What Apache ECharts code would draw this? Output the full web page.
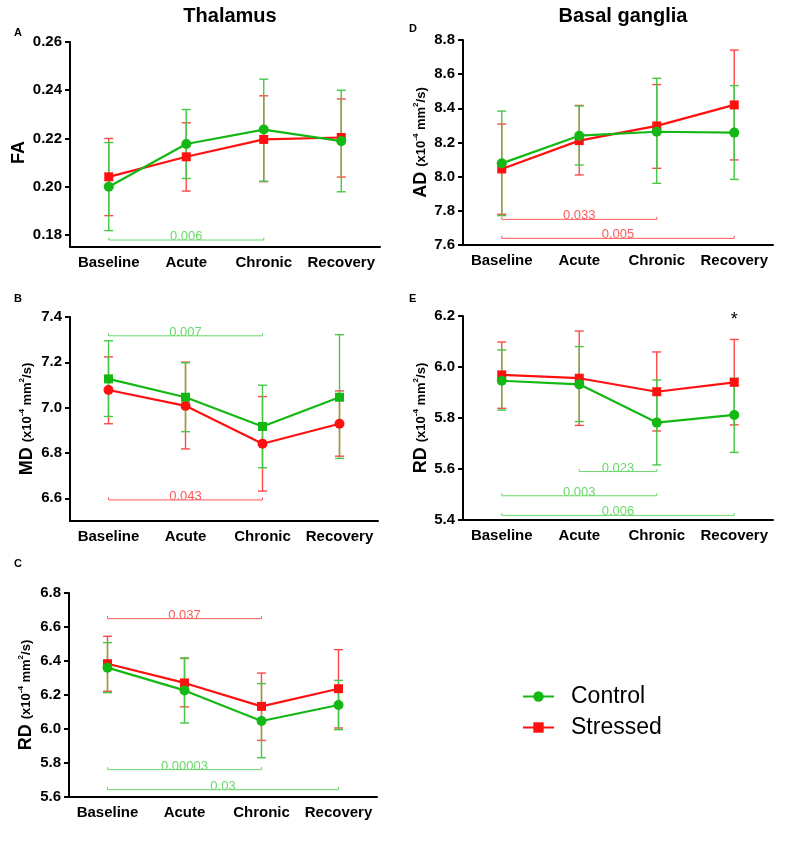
<!DOCTYPE html>
<html>
<head>
<meta charset="utf-8">
<script src="https://cdn.jsdelivr.net/npm/echarts@6/dist/echarts.min.js"></script>
<style>html,body{margin:0;padding:0;background:#fff}#chart{width:797px;height:845px}</style>
</head>
<body>
<div id="chart"></div>
<script>
const categories = ['Baseline', 'Acute', 'Chronic', 'Recovery'];

// Panel A – Thalamus FA
const faControl = [0.200, 0.2177, 0.2237, 0.2189];
const faControlUpper = [0.2183, 0.232, 0.2446, 0.240];
const faControlLower = [0.1818, 0.2034, 0.2023, 0.1979];
const faStressed = [0.2041, 0.2124, 0.2196, 0.2204];
const faStressedUpper = [0.220, 0.2265, 0.2377, 0.2364];
const faStressedLower = [0.188, 0.1982, 0.2021, 0.2040];
const faTicks = [0.18, 0.20, 0.22, 0.24, 0.26];
const faBrackets = [[0, 2, 0.1779, '0.006', 'c']];

// Panel B – Thalamus MD
const mdControl = [7.127, 7.046, 6.917, 7.046];
const mdControlUpper = [7.295, 7.198, 7.099, 7.322];
const mdControlLower = [6.961, 6.894, 6.735, 6.776];
const mdStressed = [7.078, 7.008, 6.841, 6.929];
const mdStressedUpper = [7.224, 7.201, 7.049, 7.074];
const mdStressedLower = [6.929, 6.818, 6.632, 6.786];
const mdTicks = [6.6, 6.8, 7.0, 7.2, 7.4];
const mdBrackets = [[0, 2, 7.317, '0.007', 'c'], [0, 2, 6.593, '0.043', 's']];

// Panel C – Thalamus RD
const rdThControl = [6.361, 6.227, 6.047, 6.141];
const rdThControlUpper = [6.508, 6.418, 6.267, 6.286];
const rdThControlLower = [6.214, 6.035, 5.831, 5.996];
const rdThStressed = [6.384, 6.271, 6.133, 6.237];
const rdThStressedUpper = [6.545, 6.415, 6.329, 6.467];
const rdThStressedLower = [6.222, 6.13, 5.933, 6.006];
const rdThTicks = [5.6, 5.8, 6.0, 6.2, 6.4, 6.6, 6.8];
const rdThBrackets = [[0, 2, 6.649, '0.037', 's'], [0, 2, 5.761, '0.00003', 'c'], [0, 3, 5.643, '0.03', 'c']];

// Panel D – Basal ganglia AD
const adControl = [8.078, 8.240, 8.263, 8.258];
const adControlUpper = [8.384, 8.414, 8.576, 8.533];
const adControlLower = [7.772, 8.068, 7.961, 7.984];
const adStressed = [8.045, 8.211, 8.297, 8.42];
const adStressedUpper = [8.308, 8.417, 8.539, 8.741];
const adStressedLower = [7.78, 8.01, 8.049, 8.098];
const adTicks = [7.6, 7.8, 8.0, 8.2, 8.4, 8.6, 8.8];
const adBrackets = [[0, 2, 7.75, '0.033', 's'], [0, 3, 7.639, '0.005', 's']];

// Panel E – Basal ganglia RD
const rdBgControl = [5.946, 5.932, 5.782, 5.812];
const rdBgControlUpper = [6.067, 6.08, 5.949, 5.956];
const rdBgControlLower = [5.831, 5.786, 5.616, 5.665];
const rdBgStressed = [5.969, 5.956, 5.903, 5.94];
const rdBgStressedUpper = [6.098, 6.141, 6.059, 6.108];
const rdBgStressedLower = [5.838, 5.771, 5.749, 5.773];
const rdBgTicks = [5.4, 5.6, 5.8, 6.0, 6.2];
const rdBgBrackets = [[1, 2, 5.59, '0.023', 'c'], [0, 2, 5.495, '0.003', 'c'], [0, 3, 5.418, '0.006', 'c']];
const rdBgStar = [[3, 6.183]];

const FONT = 'Liberation Sans, Arial, Helvetica, sans-serif';
const GREEN = '#14b814';
const RED = '#ff1010';
const GREEN_BAR = '#46c846';
const RED_BAR = '#ff4848';
const GREEN_BR = '#6ad86a';
const RED_BR = '#ff5a5a';

const grids = [
  {left: 70, top: 42, width: 310, height: 205},
  {left: 70, top: 317, width: 308, height: 204},
  {left: 69, top: 593, width: 308, height: 204},
  {left: 463, top: 40, width: 310, height: 205},
  {left: 463, top: 316, width: 310, height: 204}
].map(g => Object.assign({outerBoundsMode: 'none', containLabel: false}, g));

function yName(main) {
  return '{b|' + main + '} {n|(x10}{s|-4}{n| mm}{s|2}{n|/s)}';
}
const nameRich = {
  b: {fontSize: 18, fontWeight: 'bold', fontFamily: FONT, color: '#000'},
  n: {fontSize: 13, fontWeight: 'bold', fontFamily: FONT, color: '#000'},
  s: {fontSize: 8, fontWeight: 'bold', fontFamily: FONT, color: '#000', verticalAlign: 'top'}
};

const panels = [
  {min: 0.175, max: 0.26, ticks: faTicks, dec: 2, name: '{b|FA}', gap: 42, namePad: [0, 16, 0, 0],
   c: faControl, cu: faControlUpper, cl: faControlLower,
   s: faStressed, su: faStressedUpper, sl: faStressedLower,
   br: faBrackets, cSym: 'circle', sSym: 'rect'},
  {min: 6.5, max: 7.4, ticks: mdTicks, dec: 1, name: yName('MD'), gap: 34,
   c: mdControl, cu: mdControlUpper, cl: mdControlLower,
   s: mdStressed, su: mdStressedUpper, sl: mdStressedLower,
   br: mdBrackets, cSym: 'rect', sSym: 'circle'},
  {min: 5.6, max: 6.8, ticks: rdThTicks, dec: 1, name: yName('RD'), gap: 34,
   c: rdThControl, cu: rdThControlUpper, cl: rdThControlLower,
   s: rdThStressed, su: rdThStressedUpper, sl: rdThStressedLower,
   br: rdThBrackets, cSym: 'circle', sSym: 'rect'},
  {min: 7.6, max: 8.8, ticks: adTicks, dec: 1, name: yName('AD'), gap: 33,
   c: adControl, cu: adControlUpper, cl: adControlLower,
   s: adStressed, su: adStressedUpper, sl: adStressedLower,
   br: adBrackets, cSym: 'circle', sSym: 'rect'},
  {min: 5.4, max: 6.2, ticks: rdBgTicks, dec: 1, name: yName('RD'), gap: 33,
   c: rdBgControl, cu: rdBgControlUpper, cl: rdBgControlLower,
   s: rdBgStressed, su: rdBgStressedUpper, sl: rdBgStressedLower,
   br: rdBgBrackets, cSym: 'circle', sSym: 'rect', star: rdBgStar}
];

const xAxes = [], yAxes = [], series = [];

function errorSeries(i, lower, upper, color, z) {
  return {
    type: 'custom', xAxisIndex: i, yAxisIndex: i, z: z, silent: true,
    data: lower.map((lo, k) => [k, lo, upper[k]]),
    encode: {x: 0, y: [1, 2]},
    renderItem: function (params, api) {
      const x = api.value(0);
      const pTop = api.coord([x, api.value(2)]);
      const pBot = api.coord([x, api.value(1)]);
      const w = 4.5;
      const st = {stroke: color, lineWidth: 1.4, fill: null};
      return {type: 'group', children: [
        {type: 'line', shape: {x1: pTop[0], y1: pTop[1], x2: pBot[0], y2: pBot[1]}, style: st},
        {type: 'line', shape: {x1: pTop[0] - w, y1: pTop[1], x2: pTop[0] + w, y2: pTop[1]}, style: st},
        {type: 'line', shape: {x1: pBot[0] - w, y1: pBot[1], x2: pBot[0] + w, y2: pBot[1]}, style: st}
      ]};
    }
  };
}

function bracketSeries(i, brackets) {
  return {
    type: 'custom', xAxisIndex: i, yAxisIndex: i, z: 1, silent: true,
    data: brackets.map(b => [b[0], b[1], b[2]]),
    encode: {x: [0, 1], y: 2},
    renderItem: function (params, api) {
      const b = brackets[params.dataIndex];
      const color = b[4] === 'c' ? GREEN_BR : RED_BR;
      const p1 = api.coord([api.value(0), api.value(2)]);
      const p2 = api.coord([api.value(1), api.value(2)]);
      const st = {stroke: color, lineWidth: 1, fill: null};
      return {type: 'group', children: [
        {type: 'line', shape: {x1: p1[0], y1: p1[1], x2: p2[0], y2: p2[1]}, style: st},
        {type: 'line', shape: {x1: p1[0], y1: p1[1], x2: p1[0], y2: p1[1] - 2.5}, style: st},
        {type: 'line', shape: {x1: p2[0], y1: p2[1], x2: p2[0], y2: p2[1] - 2.5}, style: st},
        {type: 'text', x: (p1[0] + p2[0]) / 2, y: p1[1] + 3,
         style: {text: b[3], fill: color, fontSize: 13, fontFamily: FONT, align: 'center', verticalAlign: 'bottom'}}
      ]};
    }
  };
}

panels.forEach((p, i) => {
  xAxes.push({
    type: 'category', gridIndex: i, data: categories, boundaryGap: true,
    axisLine: {lineStyle: {color: '#000', width: 2}},
    axisTick: {alignWithLabel: true, length: 4, lineStyle: {color: '#000', width: 2}},
    axisLabel: {color: '#000', fontWeight: 'bold', fontSize: 15, fontFamily: FONT, margin: 8, interval: 0},
    splitLine: {show: false}
  });
  yAxes.push({
    type: 'value', gridIndex: i, min: p.min, max: p.max,
    name: p.name, nameLocation: 'middle', nameGap: p.gap, nameRotate: 90,
    nameTextStyle: {rich: nameRich, fontFamily: FONT, fontWeight: 'bold', fontSize: 18, color: '#000',
      padding: p.namePad || 0},
    axisLine: {show: true, lineStyle: {color: '#000', width: 2}},
    axisTick: {show: true, length: 5, lineStyle: {color: '#000', width: 2}, customValues: p.ticks},
    axisLabel: {color: '#000', fontWeight: 'bold', fontSize: 15, fontFamily: FONT, margin: 8,
      customValues: p.ticks, formatter: v => Number(v).toFixed(p.dec)},
    splitLine: {show: false}
  });
  series.push(bracketSeries(i, p.br));
  series.push(errorSeries(i, p.sl, p.su, RED_BAR, 2));
  series.push(errorSeries(i, p.cl, p.cu, GREEN_BAR, 2));
  series.push({
    name: 'Stressed', type: 'line', xAxisIndex: i, yAxisIndex: i, data: p.s, z: 3,
    symbol: p.sSym, symbolSize: p.sSym === 'rect' ? 9 : 10, color: RED,
    lineStyle: {color: RED, width: 2.2}, itemStyle: {color: RED}
  });
  series.push({
    name: 'Control', type: 'line', xAxisIndex: i, yAxisIndex: i, data: p.c, z: 4,
    symbol: p.cSym, symbolSize: p.cSym === 'rect' ? 9 : 10, color: GREEN,
    lineStyle: {color: GREEN, width: 2.2}, itemStyle: {color: GREEN}
  });
  if (p.star) {
    series.push({
      type: 'custom', xAxisIndex: i, yAxisIndex: i, z: 5, silent: true,
      data: p.star, encode: {x: 0, y: 1},
      renderItem: function (params, api) {
        const pt = api.coord([api.value(0), api.value(1)]);
        return {type: 'text', x: pt[0], y: pt[1],
          style: {text: '*', fill: '#000', fontSize: 18, fontFamily: FONT, align: 'center', verticalAlign: 'middle'}};
      }
    });
  }
});

const letterStyle = {fontSize: 11, fontWeight: 'bold', fontFamily: FONT, color: '#000'};
const option = {
  animation: false,
  backgroundColor: '#fff',
  title: [
    {text: 'Thalamus', left: 225, top: 1, textAlign: 'center', textStyle: {fontSize: 20, fontWeight: 'bold', fontFamily: FONT, color: '#000'}},
    {text: 'Basal ganglia', left: 618, top: 1, textAlign: 'center', textStyle: {fontSize: 20, fontWeight: 'bold', fontFamily: FONT, color: '#000'}},
    {text: 'A', left: 14, top: 27, textStyle: letterStyle, padding: 0},
    {text: 'B', left: 14, top: 293, textStyle: letterStyle, padding: 0},
    {text: 'C', left: 14, top: 558, textStyle: letterStyle, padding: 0},
    {text: 'D', left: 409, top: 23, textStyle: letterStyle, padding: 0},
    {text: 'E', left: 409, top: 293, textStyle: letterStyle, padding: 0}
  ],
  legend: {
    data: ['Control', 'Stressed'], orient: 'vertical', left: 517, top: 680,
    itemWidth: 31, itemHeight: 13, itemGap: 8,
    textStyle: {fontSize: 23, fontFamily: FONT, color: '#000', padding: [0, 0, 0, 12]}
  },
  grid: grids,
  xAxis: xAxes,
  yAxis: yAxes,
  series: series
};

const chart = echarts.init(document.getElementById('chart'), null, {renderer: 'canvas'});
chart.setOption(option);
</script>
</body>
</html>
